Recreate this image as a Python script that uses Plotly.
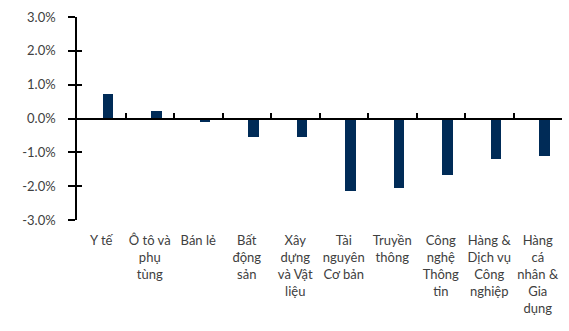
import plotly.graph_objects as go

categories = [
    "Y tế",
    "Ô tô và<br>phụ<br>tùng",
    "Bán lẻ",
    "Bất<br>động<br>sản",
    "Xây<br>dựng<br>và Vật<br>liệu",
    "Tài<br>nguyên<br>Cơ bản",
    "Truyền<br>thông",
    "Công<br>nghệ<br>Thông<br>tin",
    "Hàng &<br>Dịch vụ<br>Công<br>nghiệp",
    "Hàng<br>cá<br>nhân &<br>Gia<br>dụng",
]
values = [0.73, 0.21, -0.09, -0.56, -0.56, -2.15, -2.05, -1.68, -1.21, -1.10]
y_ticks = [-3, -2, -1, 0, 1, 2, 3]
y_tick_labels = ["-3.0%", "-2.0%", "-1.0%", "0.0%", "1.0%", "2.0%", "3.0%"]

FONT = "Lato"
TXT = "#404040"
BAR = "#002B57"

fig = go.Figure()
fig.add_trace(go.Bar(
    x=categories, y=values, marker_color=BAR, marker_line_width=0,
    offset=0.03, width=0.22, xaxis="x", yaxis="y", showlegend=False,
))
# helper trace on overlay axes (for zero-line category ticks and crossing y ticks)
fig.add_trace(go.Scatter(
    x=categories, y=values, mode="markers", marker=dict(size=0.1, opacity=0),
    xaxis="x2", yaxis="y2", showlegend=False, hoverinfo="skip",
))

fig.update_layout(
    width=569, height=331,
    margin=dict(l=77, r=7, t=17, b=111),
    paper_bgcolor="white", plot_bgcolor="white",
    font=dict(family=FONT, size=13, color=TXT),
    bargap=0,
    xaxis=dict(
        type="category", categoryorder="array", categoryarray=categories,
        range=[-0.5, 9.5], anchor="y",
        showline=False, ticks="", showgrid=False, zeroline=False,
        tickfont=dict(family=FONT, size=13, color=TXT),
        ticklabelstandoff=11,
    ),
    xaxis2=dict(
        type="category", categoryorder="array", categoryarray=categories,
        range=[-0.5, 9.5], overlaying="x", anchor="free", position=0.5,
        side="bottom", showline=True, linecolor="black", linewidth=1.5,
        ticks="inside", ticklen=5, tickwidth=1.5, tickcolor="black",
        tickson="boundaries", showticklabels=False, showgrid=False, zeroline=False,
    ),
    yaxis=dict(
        range=[-3, 3], tickvals=y_ticks, ticktext=y_tick_labels,
        ticks="outside", ticklen=7, tickwidth=1.5, tickcolor="black",
        showline=True, linecolor="black", linewidth=1.5,
        showgrid=False, zeroline=False,
        tickfont=dict(family=FONT, size=13, color=TXT),
        ticklabelstandoff=10,
    ),
    yaxis2=dict(
        range=[-3, 3], tickvals=y_ticks, overlaying="y", anchor="x2", side="left",
        ticks="inside", ticklen=5, tickwidth=1.5, tickcolor="black",
        showline=False, showticklabels=False, showgrid=False, zeroline=False,
    ),
)

fig.write_html("out.html")
